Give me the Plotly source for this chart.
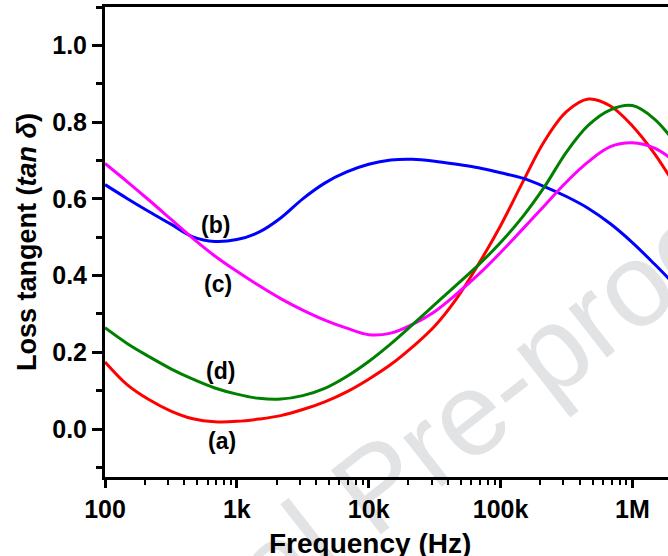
import math
import plotly.graph_objects as go

# frequencies (Hz), 1/6-decade spacing
freq = [100, 147, 215, 316, 464, 681, 1000, 1470, 2150, 3160, 4640, 6810, 10000,
        14700, 21500, 31600, 46400, 68100, 100000, 147000, 215000, 316000, 464000,
        681000, 1000000, 1470000, 2150000]

tan_a = [0.175, 0.116, 0.077, 0.047, 0.027, 0.019, 0.020, 0.026, 0.035, 0.051, 0.071, 0.097,
         0.130, 0.168, 0.214, 0.268, 0.340, 0.430, 0.530, 0.643, 0.750, 0.827, 0.860, 0.842,
         0.790, 0.718, 0.630]
tan_b = [0.637, 0.601, 0.567, 0.534, 0.501, 0.489, 0.494, 0.513, 0.550, 0.600, 0.641, 0.670,
         0.690, 0.701, 0.703, 0.698, 0.690, 0.681, 0.668, 0.654, 0.632, 0.606, 0.575, 0.535,
         0.486, 0.430, 0.372]
tan_c = [0.692, 0.645, 0.597, 0.547, 0.497, 0.451, 0.411, 0.374, 0.340, 0.310, 0.284, 0.263,
         0.246, 0.250, 0.273, 0.306, 0.352, 0.403, 0.460, 0.521, 0.582, 0.644, 0.697, 0.736,
         0.746, 0.732, 0.695]
tan_d = [0.264, 0.223, 0.189, 0.157, 0.130, 0.107, 0.091, 0.080, 0.078, 0.087, 0.106, 0.137,
         0.176, 0.222, 0.272, 0.324, 0.376, 0.428, 0.486, 0.553, 0.631, 0.722, 0.792, 0.832,
         0.843, 0.808, 0.742]

series = [("(a)", tan_a, "#ff0000"), ("(b)", tan_b, "#0000ff"),
          ("(c)", tan_c, "#ff00ff"), ("(d)", tan_d, "#008000")]

labels = ["(b)", "(c)", "(d)", "(a)"]
label_f = [685, 722, 748, 774]
label_y = [0.532, 0.377, 0.151, -0.031]

x_major = [100, 1e3, 1e4, 1e5, 1e6]
x_major_text = ["100", "1k", "10k", "100k", "1M"]
x_minor = [k * 10 ** n for n in range(2, 7) for k in range(2, 10)]
y_major = [0.0, 0.2, 0.4, 0.6, 0.8, 1.0]

FONT = "Liberation Sans, Arial, sans-serif"

fig = go.Figure()
for name, vals, col in series:
    fig.add_trace(go.Scatter(x=freq, y=vals, mode="lines", name=name,
                             line=dict(color=col, width=3, shape="spline", smoothing=1.0),
                             showlegend=False, hoverinfo="skip"))

for t, f, v in zip(labels, label_f, label_y):
    fig.add_annotation(x=math.log10(f), y=v, text="<b>%s</b>" % t,
                       showarrow=False, font=dict(family=FONT, size=23, color="black"))

# watermark (below traces)
fig.add_shape(type="line", xref="paper", yref="paper", x0=0.46, y0=0.0, x1=0.48, y1=0.0,
              line=dict(width=0, color="rgba(0,0,0,0)"), layer="below",
              label=dict(text="Journal Pre-proof", textangle=-38, textposition="middle",
                         xanchor="center", yanchor="middle", padding=0,
                         font=dict(family=FONT, size=118, color="#e2e3e5")))

fig.add_annotation(xref="paper", yref="paper", x=0.4715, y=-0.104, yanchor="top",
                   text="<b>Frequency (Hz)</b>", showarrow=False,
                   font=dict(family=FONT, size=28, color="black"))

fig.update_xaxes(type="log", range=[2, 6.27], tickvals=x_major, ticktext=x_major_text,
                 ticks="outside", ticklen=8, tickwidth=3, tickcolor="black",
                 showline=True, linewidth=3, linecolor="black", mirror=True,
                 showgrid=False, zeroline=False,
                 tickfont=dict(family=FONT, size=25, color="black", weight="bold"),
                 minor=dict(tickvals=x_minor, ticks="outside", ticklen=5, tickwidth=2,
                            tickcolor="black", showgrid=False))
fig.update_yaxes(range=[-0.125, 1.1], tickvals=y_major, tickformat=".1f",
                 ticks="outside", ticklen=10, tickwidth=3, tickcolor="black",
                 showline=True, linewidth=3, linecolor="black", mirror=False,
                 showgrid=False, zeroline=False,
                 tickfont=dict(family=FONT, size=25, color="black", weight="bold"),
                 minor=dict(dtick=0.1, ticks="outside", ticklen=6, tickwidth=3,
                            tickcolor="black", showgrid=False),
                 title=dict(text="<b>Loss tangent (<i>tan δ</i>)</b>", standoff=8,
                            font=dict(family=FONT, size=27, color="black")))

fig.update_layout(width=668, height=556, margin=dict(l=105, r=0, t=7, b=79),
                  paper_bgcolor="white", plot_bgcolor="white")

fig.write_html("out.html")
